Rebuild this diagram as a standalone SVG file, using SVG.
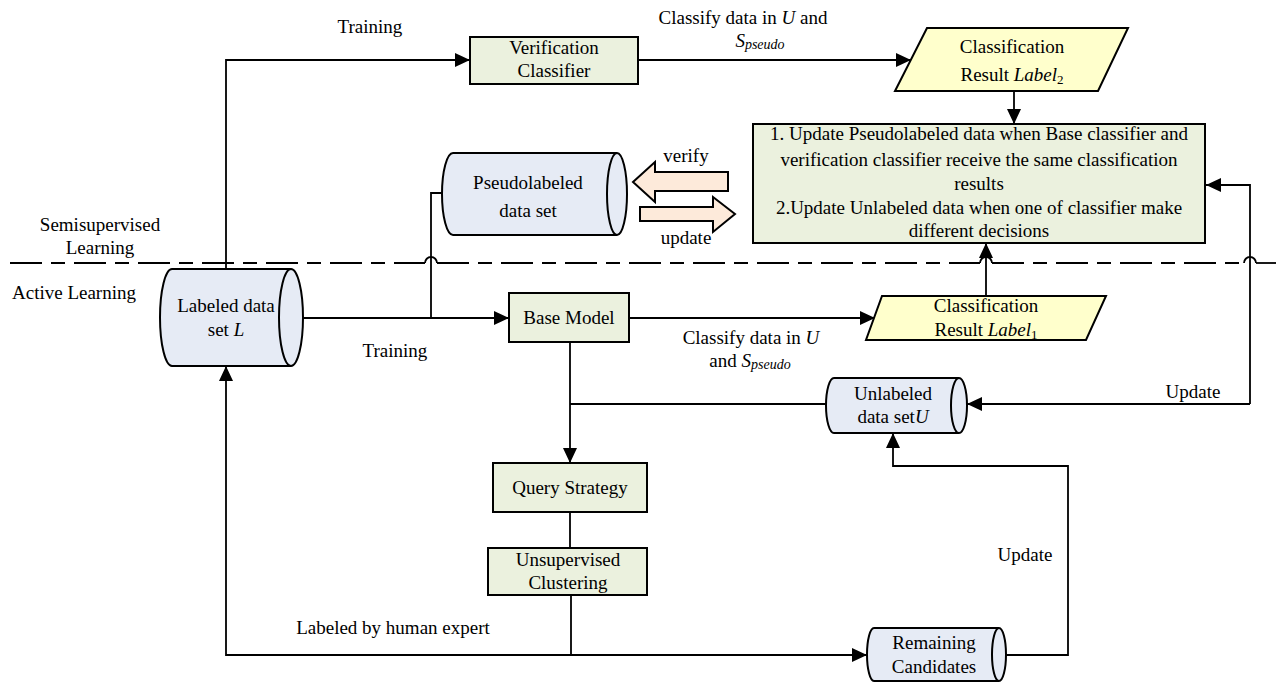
<svg xmlns="http://www.w3.org/2000/svg" width="1276" height="683" viewBox="0 0 1276 683" font-family="'Liberation Serif', 'DejaVu Serif', serif" font-size="19">
  <defs>
    <marker id="arrow" markerWidth="15" markerHeight="14" viewBox="0 0 15 14" refX="15" refY="7" orient="auto" markerUnits="userSpaceOnUse">
      <path d="M0,0 L15,7 L0,14 Z" fill="#000"/>
    </marker>
    <style>
      text { font-family: 'Liberation Serif', 'DejaVu Serif', serif; font-size: 19px; fill: #000; }
      .c { text-anchor: middle; }
      .it { font-style: italic; }
      .box { fill: #EBF1DE; stroke: #000; stroke-width: 2; }
      .para { fill: #FFFFCC; stroke: #000; stroke-width: 2; }
      .cyl { fill: #E6EBF5; stroke: #000; stroke-width: 2; }
      .cylend { fill: none; stroke: #000; stroke-width: 2; }
      .big { fill: #FDEADA; stroke: #000; stroke-width: 2; }
      .wire { fill: none; stroke: #000; stroke-width: 1.8; }
      .arr { marker-end: url(#arrow); }
      .dash { fill: none; stroke: #000; stroke-width: 1.8; stroke-dasharray: 32 9 14 9; }
    </style>
  </defs>

  <rect width="1276" height="683" fill="#fff"/>

  <!-- region separator between the two learning stages -->
  <g id="separator">
    <path class="dash" d="M10 263 H425"/>
    <path class="dash" d="M437 263 H980"/>
    <path class="dash" d="M992 263 H1244"/>
    <path class="dash" d="M1256 263 H1276"/>
    <path class="wire" d="M425 263 A6 6 0 0 1 437 263 M980 263 A6 6 0 0 1 992 263 M1244 263 A6 6 0 0 1 1256 263"/>
    <text class="c" x="100" y="231">Semisupervised</text>
    <text class="c" x="100" y="254">Learning</text>
    <text class="c" x="74" y="299">Active Learning</text>
  </g>

  <g id="connectors">
    <path class="wire arr" d="M226 269 V60 H470"/>
    <path class="wire arr" d="M638 60 H911"/>
    <path class="wire arr" d="M1014 91 V124"/>
    <path class="wire arr" d="M303 318 H509"/>
    <path class="wire" d="M431 318 V193 H443"/>
    <path class="wire arr" d="M629 318 H875"/>
    <path class="wire arr" d="M986 296 V243"/>
    <path class="wire arr" d="M570 342 V463"/>
    <path class="wire" d="M826 404 H570"/>
    <path class="wire arr" d="M1250 404 V185 H1206"/>
    <path class="wire arr" d="M1250 404 H967"/>
    <path class="wire" d="M570 512 V548"/>
    <path class="wire" d="M571 595 V655"/>
    <path class="wire arr" d="M571 655 H226 V366"/>
    <path class="wire arr" d="M571 655 H867"/>
    <path class="wire arr" d="M1006 655 H1068 V466 H893 V433"/>
    <!-- connector labels -->
    <text class="c" x="370" y="33">Training</text>
    <text class="c" x="743" y="24">Classify data in <tspan class="it">U</tspan> and</text>
    <text class="c" x="760" y="47"><tspan class="it">S</tspan><tspan class="it" font-size="14" dy="2">pseudo</tspan></text>
    <text class="c" x="395" y="357">Training</text>
    <text class="c" x="751" y="344">Classify data in <tspan class="it">U</tspan></text>
    <text class="c" x="750" y="367">and <tspan class="it">S</tspan><tspan class="it" font-size="14" dy="2">pseudo</tspan></text>
    <text class="c" x="1193" y="398">Update</text>
    <text class="c" x="1025" y="561">Update</text>
    <text class="c" x="393" y="634">Labeled by human expert</text>
  </g>

  <g id="verification-classifier">
    <rect class="box" x="470" y="37" width="168" height="47"/>
    <text class="c" x="554" y="54">Verification</text>
    <text class="c" x="554" y="77">Classifier</text>
  </g>

  <g id="result-label2">
    <path class="para" d="M927 28 H1128 L1098 91 H895 Z"/>
    <text class="c" x="1012" y="53">Classification</text>
    <text class="c" x="1012" y="81">Result <tspan class="it">Label</tspan><tspan font-size="13" dy="3">2</tspan></text>
  </g>

  <g id="update-rules">
    <rect class="box" x="753" y="124" width="452" height="119"/>
    <text class="c" x="979" y="140">1. Update Pseudolabeled data when Base classifier and</text>
    <text class="c" x="979" y="166">verification classifier receive the same classification</text>
    <text class="c" x="979" y="190">results</text>
    <text class="c" x="979" y="214">2.Update Unlabeled data when one of classifier make</text>
    <text class="c" x="979" y="237">different decisions</text>
  </g>

  <g id="pseudolabeled-set">
    <path class="cyl" d="M453 153 H617 A10 41 0 0 1 617 235 H453 A11 41 0 0 1 453 153 Z"/>
    <path class="cylend" d="M617 153 A10 41 0 0 0 617 235"/>
    <text class="c" x="528" y="189">Pseudolabeled</text>
    <text class="c" x="528" y="217">data set</text>
  </g>

  <g id="verify-arrow">
    <path class="big" d="M633 182 L655 162 V172 H728 V191 H655 V202 Z"/>
    <text class="c" x="686" y="162">verify</text>
  </g>

  <g id="update-arrow">
    <path class="big" d="M735 214 L713 197 V207 H640 V221 H713 V232 Z"/>
    <text class="c" x="686" y="244">update</text>
  </g>

  <g id="labeled-set">
    <path class="cyl" d="M172 269 H291 A12 48.5 0 0 1 291 366 H172 A12 48.5 0 0 1 172 269 Z"/>
    <path class="cylend" d="M291 269 A12 48.5 0 0 0 291 366"/>
    <text class="c" x="226" y="312">Labeled data</text>
    <text class="c" x="226" y="336">set <tspan class="it">L</tspan></text>
  </g>

  <g id="base-model">
    <rect class="box" x="509" y="293" width="120" height="49"/>
    <text class="c" x="569" y="324">Base Model</text>
  </g>

  <g id="result-label1">
    <path class="para" d="M882 296 H1106 L1086 340 H866 Z"/>
    <text class="c" x="986" y="312">Classification</text>
    <text class="c" x="986" y="336">Result <tspan class="it">Label</tspan><tspan font-size="13" dy="3">1</tspan></text>
  </g>

  <g id="unlabeled-set">
    <path class="cyl" d="M834 378 H959 A8 27.5 0 0 1 959 433 H834 A8 27.5 0 0 1 834 378 Z"/>
    <path class="cylend" d="M959 378 A8 27.5 0 0 0 959 433"/>
    <text class="c" x="893" y="400">Unlabeled</text>
    <text class="c" x="893" y="423">data set<tspan class="it">U</tspan></text>
  </g>

  <g id="query-strategy">
    <rect class="box" x="493" y="463" width="154" height="49"/>
    <text class="c" x="570" y="494">Query Strategy</text>
  </g>

  <g id="unsupervised-clustering">
    <rect class="box" x="488" y="548" width="159" height="47"/>
    <text class="c" x="568" y="566">Unsupervised</text>
    <text class="c" x="568" y="589">Clustering</text>
  </g>

  <g id="remaining-candidates">
    <path class="cyl" d="M874 628 H999 A7 26.5 0 0 1 999 681 H874 A7 26.5 0 0 1 874 628 Z"/>
    <path class="cylend" d="M999 628 A7 26.5 0 0 0 999 681"/>
    <text class="c" x="934" y="649">Remaining</text>
    <text class="c" x="934" y="673">Candidates</text>
  </g>
</svg>
